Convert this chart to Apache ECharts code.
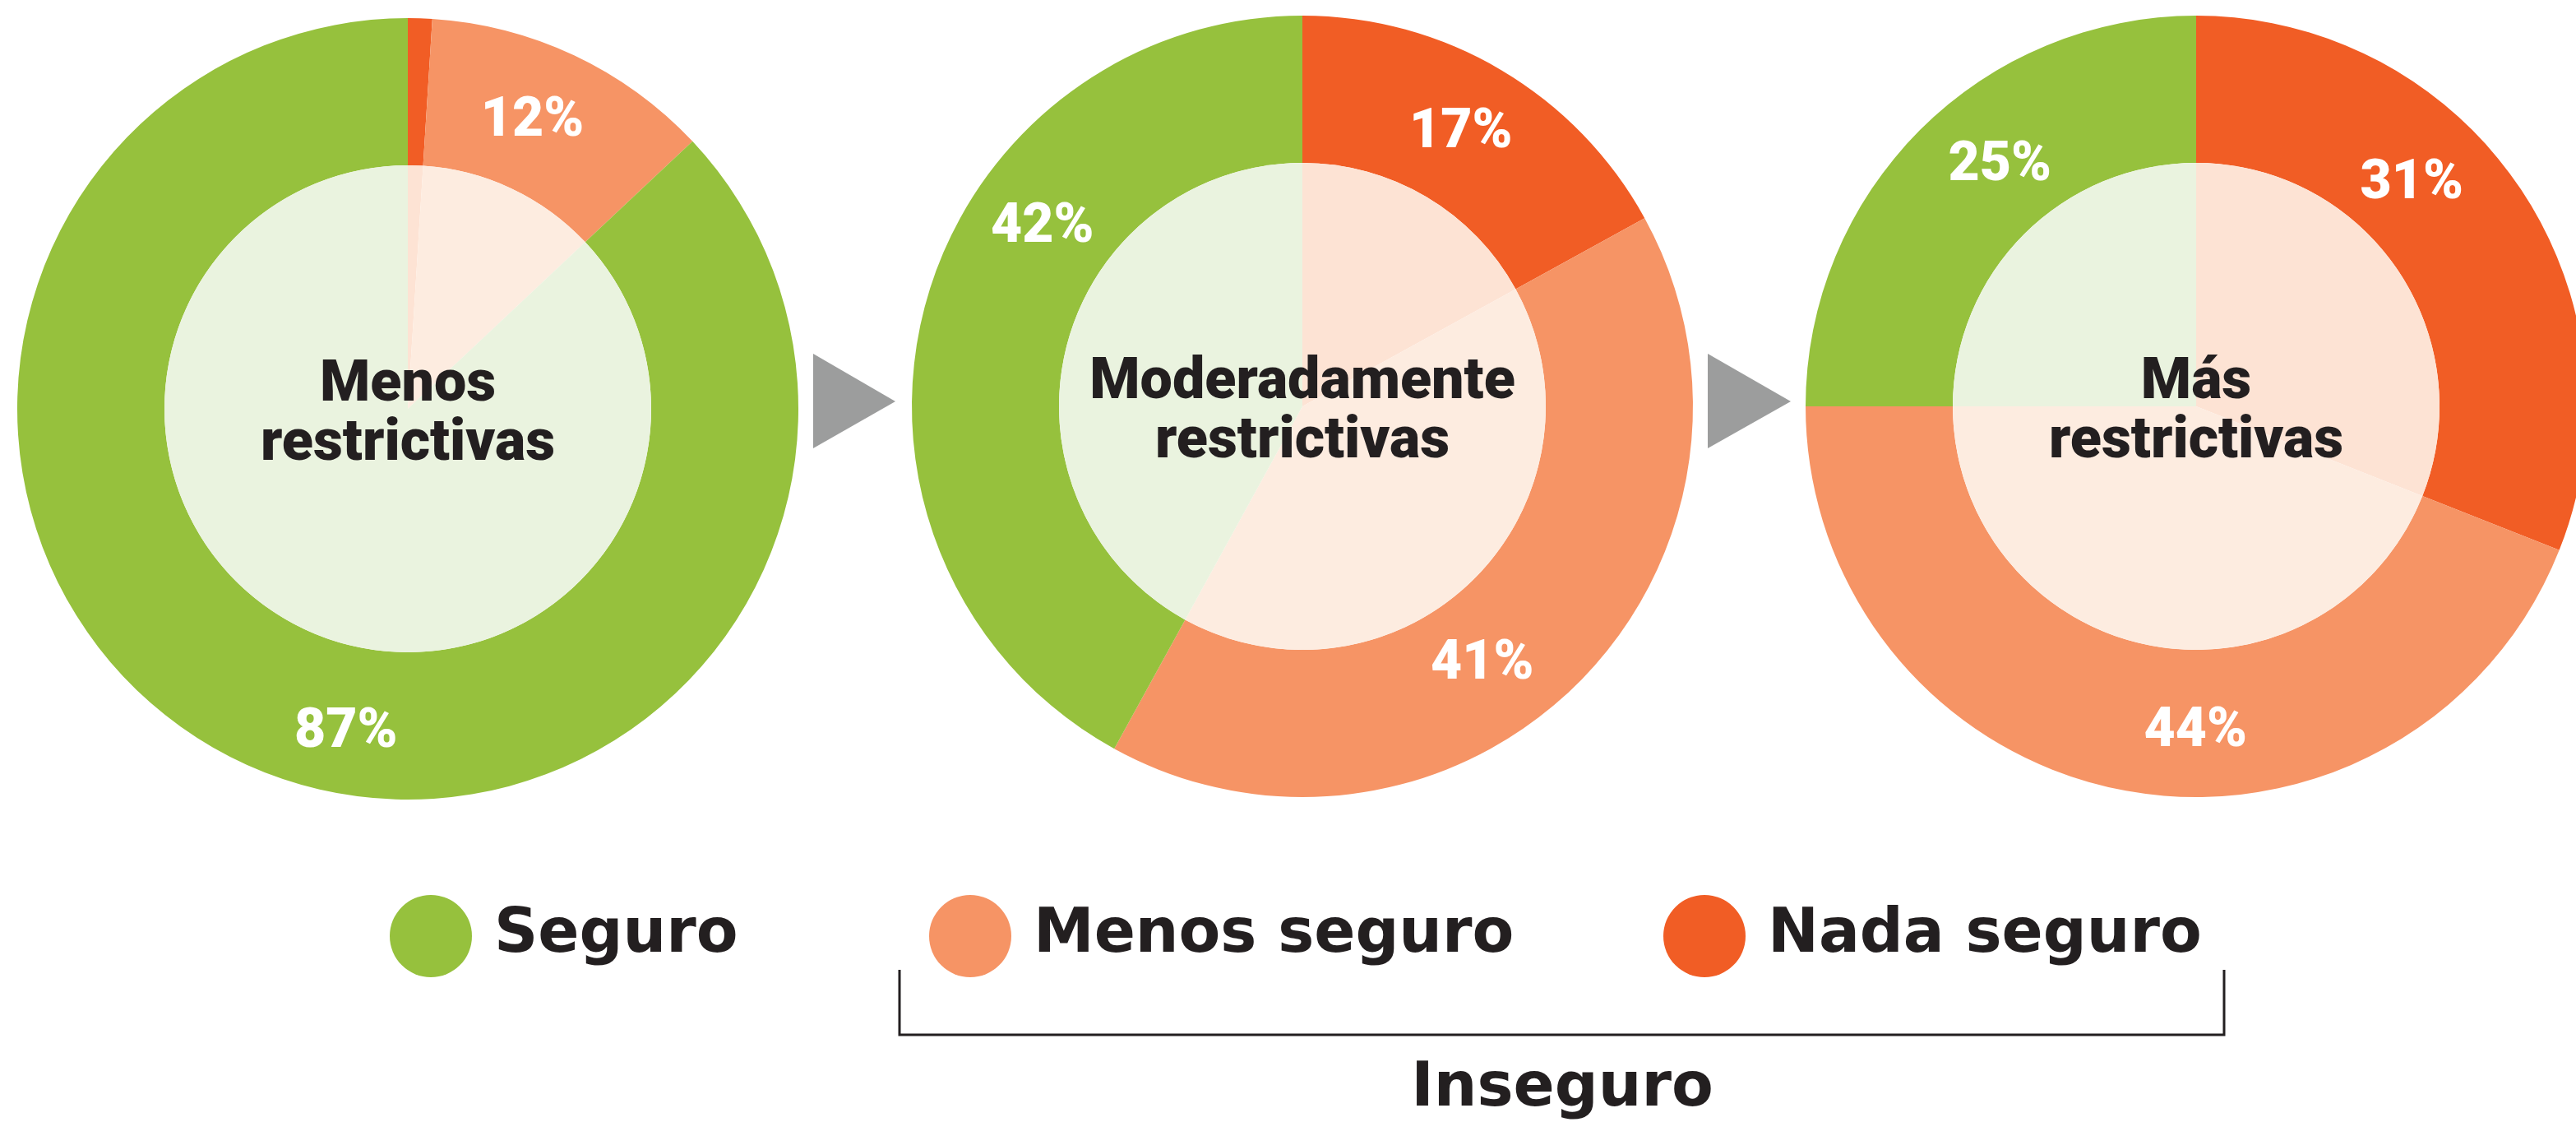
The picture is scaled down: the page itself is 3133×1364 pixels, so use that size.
<!DOCTYPE html>
<html>
<head>
<meta charset="utf-8">
<script src="https://cdn.jsdelivr.net/npm/echarts@6.0.0/dist/echarts.min.js"></script>
<style>
  html, body { margin: 0; padding: 0; background: #fff; }
  #chart { width: 3133px; height: 1364px; }
</style>
</head>
<body>
<div id="chart"></div>
<script>
// categories, clockwise from 12 o'clock
const categories = ['Nada seguro', 'Menos seguro', 'Seguro'];
const legendOrder = ['Seguro', 'Menos seguro', 'Nada seguro'];
const groupLabels = ['Menos\nrestrictivas', 'Moderadamente\nrestrictivas', 'Más\nrestrictivas'];

// percentages per group (Nada, Menos, Seguro)
const menosRestrictivas = [1, 12, 87];
const moderadamenteRestrictivas = [17, 41, 42];
const masRestrictivas = [31, 44, 25];
const groupValues = [menosRestrictivas, moderadamenteRestrictivas, masRestrictivas];

const colors = {'Seguro': '#96c13d', 'Menos seguro': '#f69465', 'Nada seguro': '#f15d25'};
const lightColors = {'Seguro': '#eaf3df', 'Menos seguro': '#fdece0', 'Nada seguro': '#fde3d4'};

// layout
const centers = [[496, 497], [1584, 494], [2671, 494]];
const innerR = 296;
const outerR = 475;
const textColor = '#231f20';
// nudges of the % labels away from the slice middle, as placed in the original
const labelNudge = [
  [[0, 0], [-14, 3], [79, 38]],
  [[-5, 3], [-56, 40], [60, -120]],
  [[-59, -51], [72, 15], [36, -17]]
];

const chart = echarts.init(document.getElementById('chart'));

const series = [];
groupValues.forEach(function (vals, g) {
  // outer ring with the labels
  series.push({
    type: 'pie',
    center: centers[g],
    radius: [innerR, outerR],
    startAngle: 90,
    clockwise: true,
    animation: false,
    avoidLabelOverlap: false,
    z: 2,
    itemStyle: {borderWidth: 0},
    emphasis: {disabled: true},
    label: {
      show: true,
      position: 'inside',
      color: '#fff',
      fontFamily: 'Roboto',
      fontWeight: 900,
      fontSize: 66,
      formatter: function (p) { return p.value >= 5 ? p.value + '%' : ''; }
    },
    labelLine: {show: false},
    data: categories.map(function (c, i) {
      return {
        name: c,
        value: vals[i],
        itemStyle: {color: colors[c]},
        label: {offset: labelNudge[g][i]}
      };
    })
  });
  // pale inner disc
  series.push({
    type: 'pie',
    center: centers[g],
    radius: [0, innerR],
    startAngle: 90,
    clockwise: true,
    animation: false,
    silent: true,
    z: 2,
    itemStyle: {borderWidth: 0},
    emphasis: {disabled: true},
    label: {show: false},
    labelLine: {show: false},
    data: categories.map(function (c, i) {
      return {name: c, value: vals[i], itemStyle: {color: lightColors[c]}};
    })
  });
});

// one legend per item so each can sit where the reference has it
const legendLefts = [469, 1125, 2018];
const legends = legendOrder.map(function (name, i) {
  return {
    data: [{name: name, itemStyle: {color: colors[name]}}],
    left: legendLefts[i],
    top: 1083,
    icon: 'circle',
    itemWidth: 100,
    itemHeight: 100,
    itemGap: 0,
    selectedMode: false,
    textStyle: {
      color: textColor,
      fontFamily: 'DejaVu Sans',
      fontWeight: 'bold',
      fontSize: 74,
      padding: [0, 0, 0, 22]
    }
  };
});

const graphics = [];
groupLabels.forEach(function (t, g) {
  graphics.push({
    type: 'text',
    x: centers[g][0],
    y: centers[g][1] + 8,
    z: 100,
    silent: true,
    style: {
      text: t,
      fill: textColor,
      font: '900 70px Roboto',
      lineHeight: 72,
      textAlign: 'center',
      textVerticalAlign: 'middle'
    }
  });
});

// grey arrows between the pies
[[989, 1089], [2077, 2178]].forEach(function (a) {
  graphics.push({
    type: 'polygon',
    silent: true,
    z: 100,
    shape: {points: [[a[0], 430], [a[1], 488], [a[0], 545]]},
    style: {fill: '#9c9d9d'}
  });
});

// bracket under the two unsafe categories
graphics.push({
  type: 'polyline',
  silent: true,
  z: 100,
  shape: {points: [[1094, 1179], [1094, 1258], [2705, 1258], [2705, 1179]]},
  style: {stroke: textColor, lineWidth: 3, fill: null}
});
graphics.push({
  type: 'text',
  x: 1900,
  y: 1325,
  z: 100,
  silent: true,
  style: {
    text: 'Inseguro',
    fill: textColor,
    font: 'bold 74px "DejaVu Sans"',
    textAlign: 'center',
    textVerticalAlign: 'middle'
  }
});

chart.setOption({
  backgroundColor: '#ffffff',
  animation: false,
  legend: legends,
  series: series,
  graphic: {elements: graphics}
});
</script>
</body>
</html>
